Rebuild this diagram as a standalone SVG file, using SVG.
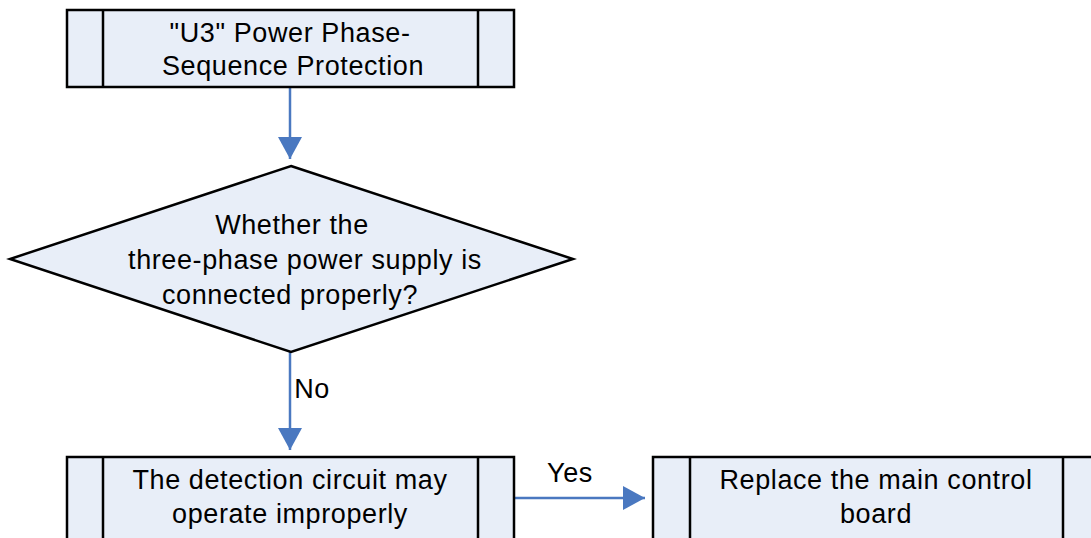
<svg xmlns="http://www.w3.org/2000/svg" width="1091" height="538" viewBox="0 0 1091 538">
<style>
.box{fill:#e8eef8;stroke:#000;stroke-width:2.5}
.ln{stroke:#000;stroke-width:2.5;fill:none}
.t{font-family:"Liberation Sans",Arial,sans-serif;font-size:27px;letter-spacing:0.6px;fill:#000;text-anchor:middle}
.c{stroke:#4a78c0;stroke-width:2.5;fill:none}
</style>
<defs>
<marker id="arr" viewBox="0 0 22 24" refX="22" refY="12" markerWidth="22" markerHeight="24" markerUnits="userSpaceOnUse" orient="auto">
<path d="M0,0 L22,12 L0,24 z" fill="#4a78c0"/>
</marker>
</defs>
<g id="connectors">
<line class="c" x1="290" y1="87" x2="290" y2="159" marker-end="url(#arr)"/>
<line class="c" x1="290" y1="352" x2="290" y2="450" marker-end="url(#arr)"/>
<text class="t" x="312" y="398">No</text>
<line class="c" x1="514" y1="498" x2="645" y2="498" marker-end="url(#arr)"/>
<text class="t" x="570" y="482">Yes</text>
</g>
<g id="start">
<rect class="box" x="67" y="10" width="447" height="77"/>
<line class="ln" x1="103" y1="10" x2="103" y2="87"/>
<line class="ln" x1="478" y1="10" x2="478" y2="87"/>
<text class="t" x="290" y="42">"U3" Power Phase-</text>
<text class="t" x="293" y="75">Sequence Protection</text>
</g>
<g id="decision">
<polygon class="box" points="291,166 573,259 291,352 10,259"/>
<text class="t" x="292" y="234">Whether the</text>
<text class="t" x="305" y="269">three-phase power supply is</text>
<text class="t" x="290" y="304">connected properly?</text>
</g>
<g id="detect">
<rect class="box" x="67" y="457" width="447" height="90"/>
<line class="ln" x1="103" y1="457" x2="103" y2="547"/>
<line class="ln" x1="478" y1="457" x2="478" y2="547"/>
<text class="t" x="290" y="489">The detection circuit may</text>
<text class="t" x="290" y="523">operate improperly</text>
</g>
<g id="replace">
<rect class="box" x="653" y="457" width="447" height="90"/>
<line class="ln" x1="690" y1="457" x2="690" y2="547"/>
<line class="ln" x1="1063" y1="457" x2="1063" y2="547"/>
<text class="t" x="876" y="489">Replace the main control</text>
<text class="t" x="876" y="523">board</text>
</g>
</svg>
